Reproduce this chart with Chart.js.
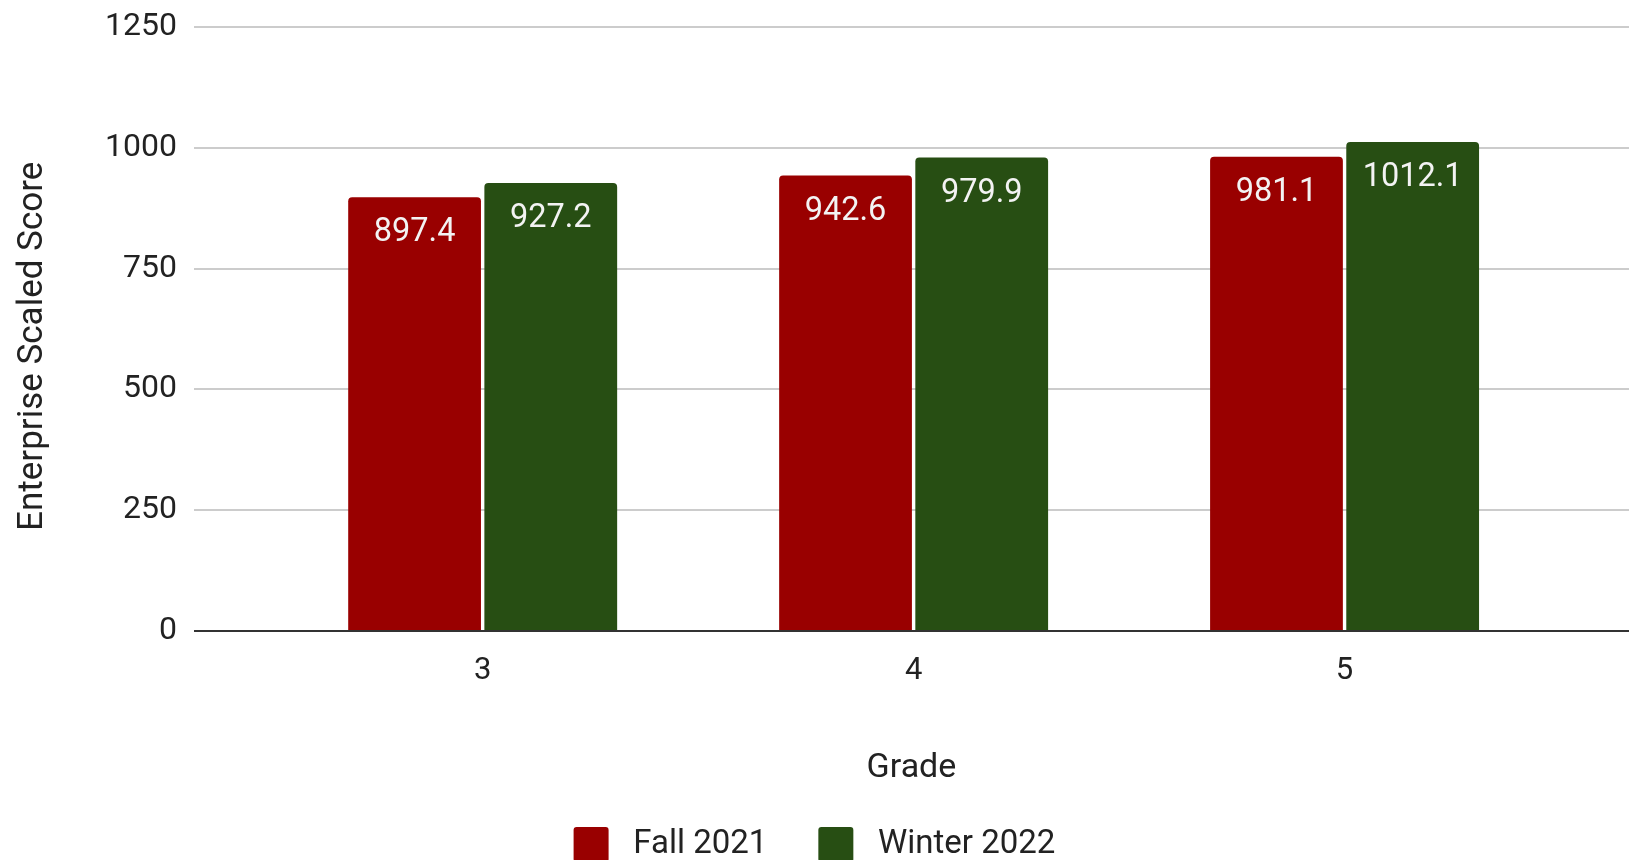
<!DOCTYPE html>
<html>
<head>
<meta charset="utf-8">
<script src="https://cdn.jsdelivr.net/npm/chart.js@4"></script>
<style>
    html, body { margin: 0; padding: 0; background: #fff; }
    #wrap { width: 1629px; height: 860px; }
</style>
</head>
<body>
<div id="wrap"><canvas id="scoreChart"></canvas></div>
<script>
// Data
const grades = [3, 4, 5];
const fall2021 = [897.4, 942.6, 981.1];
const winter2022 = [927.2, 979.9, 1012.1];
const yTicks = [0, 250, 500, 750, 1000, 1250];

const textColor = '#222222';
const fontFamily = 'Roboto, "Noto Sans", sans-serif';

// Draws the value inside the top of each bar
const barValueLabels = {
    id: 'barValueLabels',
    afterDatasetsDraw(chart) {
        const ctx = chart.ctx;
        ctx.save();
        ctx.font = `32.5px ${fontFamily}`;
        ctx.fillStyle = '#f3f3f3';
        ctx.textAlign = 'center';
        ctx.textBaseline = 'middle';
        chart.data.datasets.forEach((ds, i) => {
            chart.getDatasetMeta(i).data.forEach((bar, j) => {
                ctx.fillText(ds.data[j].y.toFixed(1), bar.x, bar.y + 36);
            });
        });
        ctx.restore();
    }
};

const toPoints = values => grades.map((g, i) => ({ x: g, y: values[i] }));

new Chart(document.getElementById('scoreChart').getContext('2d'), {
    type: 'bar',
    data: {
        datasets: [{
            label: 'Fall 2021',
            data: toPoints(fall2021),
            backgroundColor: '#990000',
            borderRadius: { topLeft: 4, topRight: 4 },
            borderSkipped: 'bottom'
        }, {
            label: 'Winter 2022',
            data: toPoints(winter2022),
            backgroundColor: '#274e13',
            borderRadius: { topLeft: 4, topRight: 4 },
            borderSkipped: 'bottom'
        }]
    },
    options: {
        responsive: true,
        maintainAspectRatio: false,
        animation: false,
        categoryPercentage: 0.632,
        barPercentage: 0.975,
        layout: { padding: { top: 0, left: 0, right: 0, bottom: -12 } },
        plugins: {
            legend: {
                position: 'bottom',
                labels: {
                    color: textColor,
                    font: { family: fontFamily, size: 33 },
                    boxWidth: 35,
                    boxHeight: 35,
                    useBorderRadius: true,
                    borderRadius: 3,
                    padding: 51,
                    // a little more room between swatch and text
                    generateLabels: chart => Chart.defaults.plugins.legend.labels.generateLabels(chart)
                        .map(item => ({ ...item, text: ' ' + item.text }))
                }
            },
            tooltip: { enabled: false }
        },
        scales: {
            x: {
                type: 'linear',
                offset: false,
                min: 2.33,
                max: 5.66,
                afterBuildTicks: axis => { axis.ticks = grades.map(v => ({ value: v })); },
                grid: { display: false, drawTicks: false },
                border: { display: false },
                ticks: {
                    color: textColor,
                    font: { family: fontFamily, size: 31 },
                    padding: 22,
                    callback: v => String(v)
                },
                title: {
                    display: true,
                    text: 'Grade',
                    color: textColor,
                    font: { family: fontFamily, size: 34 },
                    padding: { top: 36, bottom: -13 }
                }
            },
            y: {
                min: 0,
                max: 1250,
                afterBuildTicks: axis => { axis.ticks = yTicks.map(v => ({ value: v })); },
                grid: {
                    drawTicks: false,
                    lineWidth: 2,
                    color: c => c.tick && c.tick.value === 0 ? '#333333' : '#cccccc'
                },
                border: { display: false },
                ticks: {
                    color: textColor,
                    font: { family: fontFamily, size: 32, lineHeight: 0.62 },
                    padding: 17,
                    callback: v => String(v)
                },
                title: {
                    display: true,
                    // trailing spaces nudge the rotated title a bit lower, as in the original
                    text: 'Enterprise Scaled Score    ',
                    color: textColor,
                    font: { family: fontFamily, size: 35 },
                    padding: { top: 12, bottom: 34 }
                }
            }
        }
    },
    plugins: [barValueLabels]
});
</script>
</body>
</html>
